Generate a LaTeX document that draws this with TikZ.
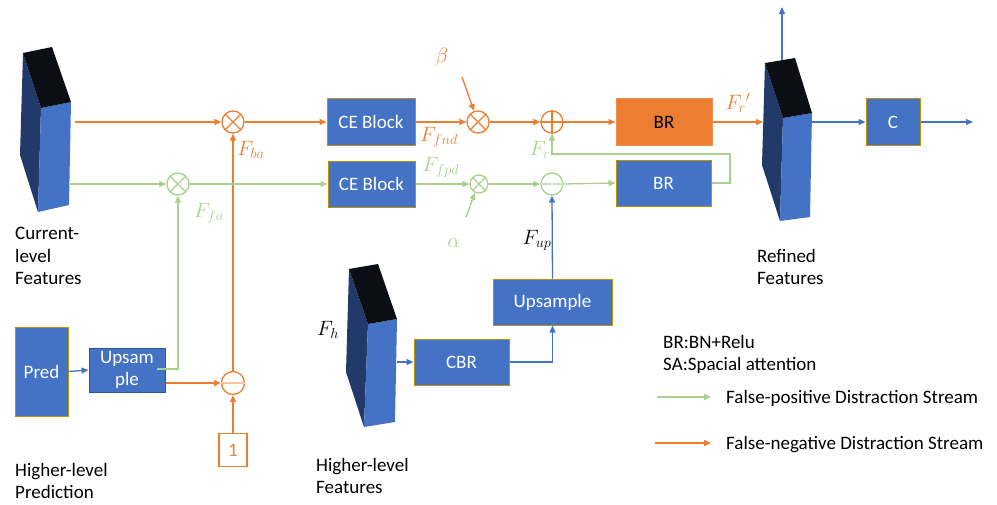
\documentclass[tikz,border=0pt]{standalone}
\usepackage{fontspec}
\setmainfont{Carlito}
\usetikzlibrary{arrows.meta,calc}
\definecolor{org}{HTML}{ED7D31}
\definecolor{grn}{HTML}{A9D18E}
\definecolor{blu}{HTML}{4472C4}
\definecolor{gold}{HTML}{BF9000}
\definecolor{dblu}{HTML}{2F5597}
\definecolor{sidec}{HTML}{223A6A}
\definecolor{topc}{HTML}{0B0E14}
\newcommand\fsz{\fontsize{19}{23}\selectfont}
\newcommand\msz{\fontsize{22}{26}\selectfont}
\begin{document}
\begin{tikzpicture}[x=1pt,y=-1pt,
  ln/.style={line width=1.3pt},
  arr/.style={ln,-{Triangle[length=7pt,width=6pt]}},
  oarr/.style={arr,draw=org},
  garr/.style={arr,draw=grn},
  barr/.style={arr,draw=blu},
  box/.style={draw=gold,fill=blu,line width=1pt,text=white,font=\fsz,inner sep=0pt,align=center},
  opc/.style={circle,line width=1.3pt,minimum size=22pt,inner sep=0pt},
  lbl/.style={inner sep=0pt,font=\msz},
  txt/.style={anchor=base west,inner sep=0pt,font=\fsz},
]
\useasboundingbox (0,0) rectangle (997,504);

% 3D blocks
\fill[sidec] (23,53) -- (41,108) -- (38,212) -- (20,155) -- cycle;
\fill[blu] (41,108) -- (71,102) -- (69,205) -- (38,212) -- cycle;
\fill[topc] (23,53) -- (52,47) -- (71,102) -- (41,108) -- cycle;

\fill[sidec] (765,63) -- (783,118) -- (780,221) -- (762,165) -- cycle;
\fill[blu] (783,118) -- (812,113) -- (810,217) -- (780,221) -- cycle;
\fill[topc] (765,63) -- (795,58) -- (812,113) -- (783,118) -- cycle;

\fill[sidec] (349,269) -- (368,324) -- (364,427) -- (346,372) -- cycle;
\fill[blu] (368,324) -- (397,319) -- (395,422) -- (364,427) -- cycle;
\fill[topc] (349,269) -- (378,264) -- (397,319) -- (368,324) -- cycle;

\coordinate (curO) at (75,122);
\coordinate (curG) at (70,184);
\coordinate (refIn) at (763,122);
\coordinate (refOut) at (812,122);
\coordinate (refTop) at (782,60);
\coordinate (outTop) at (782,7);
\coordinate (hiOut) at (397,362);

% boxes
\node[box,minimum width=88pt,minimum height=47pt] (ce1) at (371,122) {CE Block};
\node[box,minimum width=87pt,minimum height=46pt] (ce2) at (371.5,184) {CE Block};
\node[box,fill=org,draw=org!85!white,text=black,minimum width=96pt,minimum height=47pt] (bro) at (664,122) {BR};
\node[box,minimum width=95pt,minimum height=46pt] (brb) at (663.5,183) {BR};
\node[box,minimum width=54pt,minimum height=47pt] (cc) at (893,122) {C};
\node[box,minimum width=53pt,minimum height=89pt] (pred) at (41.5,371.5) {Pred};
\node[box,draw=dblu,font=\fontsize{19}{22}\selectfont,minimum width=76pt,minimum height=44pt] (ups) at (127,370) {Upsam\\ple};
\node[box,minimum width=95pt,minimum height=46pt] (cbr) at (461.5,362) {CBR};
\node[box,minimum width=119pt,minimum height=46pt] (up) at (552.5,302) {Upsample};
\node[draw=org,line width=1.2pt,text=org,font=\fsz,minimum width=28pt,minimum height=33pt,inner sep=0pt] (one) at (233,450) {1};

% operators
\node[opc,draw=org] (m1) at (233,122) {};
\draw[org,ln] (m1.north west) -- (m1.south east) (m1.north east) -- (m1.south west);
\node[opc,draw=org] (m4) at (478,122) {};
\draw[org,ln] (m4.north west) -- (m4.south east) (m4.north east) -- (m4.south west);
\node[opc,draw=org] (pl) at (552,122) {};
\draw[org,ln] (pl.north) -- (pl.south) (pl.west) -- (pl.east);
\node[opc,draw=org,minimum size=23pt] (m2) at (233,383) {};
\draw[org!45,ln] (m2.west) -- (m2.east);
\node[opc,draw=grn] (m3) at (178,184) {};
\draw[grn,ln] (m3.north west) -- (m3.south east) (m3.north east) -- (m3.south west);
\node[opc,draw=grn,minimum size=18pt] (m5) at (479,184) {};
\draw[grn,ln] (m5.north west) -- (m5.south east) (m5.north east) -- (m5.south west);
\node[opc,draw=grn] (pm) at (552,184) {};
\draw[grn!60,ln] (pm.west) -- (pm.east);

% orange stream
\draw[oarr] (curO) -- (m1.west);
\draw[oarr] (m1.east) -- (ce1.west);
\draw[oarr] (ce1.east) -- (m4.west);
\draw[oarr] (m4.east) -- (pl.west);
\draw[oarr] (pl.east) -- (bro.west);
\draw[oarr] (bro.east) -- (refIn);
\coordinate (betaS) at (462,77);
\draw[oarr] (betaS) -- (m4.110);
\coordinate (upsO) at (166,383);
\draw[oarr] (upsO) -- (m2.west);
\draw[oarr] (m2.north) -- (m1.south);
\draw[oarr] (one.north) -- (m2.south);

% green stream
\draw[garr] (curG) -- (m3.west);
\draw[garr] (m3.east) -- (ce2.west);
\draw[garr] (ce2.east) -- (m5.west);
\draw[garr] (m5.east) -- (pm.west);
\draw[garr] (pm.east) -- (brb.west);
\coordinate (fb) at (730,154);
\draw[garr] (brb.east) -| (fb) -| (pl.south);
\coordinate (upsG) at (157,369);
\draw[garr] (upsG) -| (m3.south);
\coordinate (alphaS) at (466,217);
\draw[garr] (alphaS) -- (m5.245);

% blue
\draw[barr] (pred.east) -- (ups.west);
\draw[barr] (hiOut) -- (cbr.west);
\draw[barr] (cbr.east) -| (up.south);
\draw[barr] (up.north) -- (pm.south);
\draw[barr] (refTop) -- (outTop);
\draw[barr] (refOut) -- (cc.west);
\coordinate (cOut) at (973,122);
\draw[barr] (cc.east) -- (cOut);

% math labels
\node[lbl,text=org] (lba) at (251,150) {$F_{ba}$};
\node[lbl,text=grn] (lfa) at (209,213) {$F_{fa}$};
\node[lbl,text=org] (lfnd) at (439,137) {$F_{fnd}$};
\node[lbl,text=grn] (lfpd) at (441,167) {$F_{fpd}$};
\node[lbl,text=grn] (lr) at (540,150) {$F_{r}$};
\node[lbl,text=org] (lrp) at (738,103) {$F_{r}{}'$};
\node[lbl] (lup) at (537,240) {$F_{up}$};
\node[lbl] (lh) at (328,330) {$F_{h}$};
\node[lbl,text=org] (lbeta) at (442,57) {$\beta$};
\node[lbl,text=grn] (lalpha) at (454,243) {$\alpha$};

% texts
\node[txt] (t1) at (15,239) {Current-};
\node[txt] (t2) at (15,262) {level};
\node[txt] (t3) at (15,284) {Features};
\node[txt] (t4) at (15,476) {Higher-level};
\node[txt] (t5) at (15,498) {Prediction};
\node[txt] (t6) at (316,471) {Higher-level};
\node[txt] (t7) at (316,493) {Features};
\node[txt] (t8) at (757,262) {Refined};
\node[txt] (t9) at (757,284) {Features};
\node[txt] (t10) at (663,348) {BR:BN+Relu};
\node[txt] (t11) at (663,370) {SA:Spacial attention};
\coordinate (lg1a) at (657,397);
\coordinate (lg1b) at (711,397);
\draw[garr] (lg1a) -- (lg1b);
\node[txt] (t12) at (726,403) {False-positive Distraction Stream};
\coordinate (lg2a) at (655,443);
\coordinate (lg2b) at (711,443);
\draw[oarr] (lg2a) -- (lg2b);
\node[txt] (t13) at (726,449) {False-negative Distraction Stream};
\end{tikzpicture}
\end{document}
